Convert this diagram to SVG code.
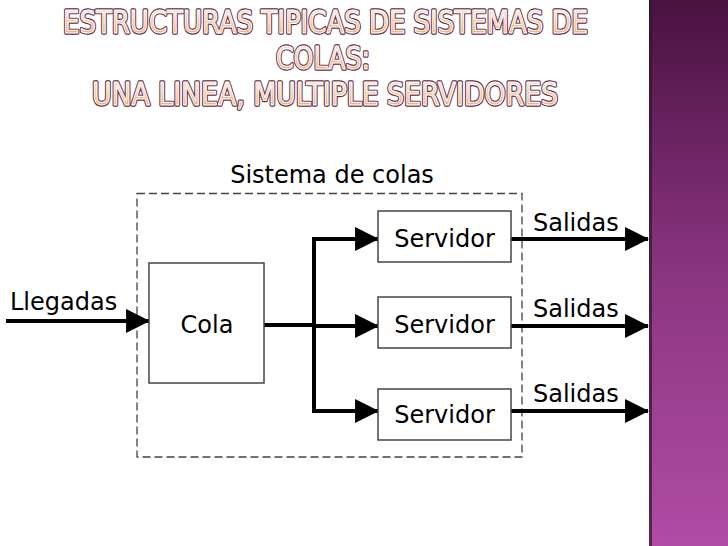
<svg xmlns="http://www.w3.org/2000/svg" width="728" height="546" viewBox="0 0 728 546">
<defs>
<linearGradient id="panel" x1="0" y1="0" x2="0" y2="1">
<stop offset="0" stop-color="#4a1240"/>
<stop offset="0.5" stop-color="#8a3580"/>
<stop offset="1" stop-color="#b24ba6"/>
</linearGradient>
<linearGradient id="titleFill" x1="0" y1="0" x2="0" y2="1">
<stop offset="0" stop-color="#fff4ea"/>
<stop offset="1" stop-color="#f09a55"/>
</linearGradient>
<marker id="arrow" markerUnits="userSpaceOnUse" markerWidth="24" markerHeight="24" viewBox="0 0 22 22" refX="21" refY="11" orient="auto">
<path d="M0,0 L22,11 L0,22 Z" fill="#000"/>
</marker>
</defs>
<style>
.lbl{font-family:"DejaVu Sans",Verdana,sans-serif;font-size:24px;fill:#000}
.box{fill:#fff;stroke:#444;stroke-width:1.5}
.wire{fill:none;stroke:#000;stroke-width:4}
.arr{fill:none;stroke:#000;stroke-width:4;marker-end:url(#arrow)}
.tOut{font-family:"DejaVu Sans Condensed","DejaVu Sans",sans-serif;font-size:25px;fill:none;stroke:#5e2c46;stroke-width:2.6;stroke-linejoin:round}
.tIn{font-family:"DejaVu Sans Condensed","DejaVu Sans",sans-serif;font-size:25px;fill:url(#titleFill);stroke:#fff;stroke-width:0.8;stroke-linejoin:round}
</style>
<rect width="728" height="546" fill="#fff"/>
<rect x="649" y="0" width="79" height="546" fill="url(#panel)"/>
<rect x="649" y="0" width="3" height="546" fill="#3a0e32" opacity="0.7"/>

<g id="title">
<g transform="translate(0,33) scale(1,1.3)">
<text class="tOut" x="325.5" y="0" text-anchor="middle" textLength="525" lengthAdjust="spacingAndGlyphs">ESTRUCTURAS TIPICAS DE SISTEMAS DE</text>
<text class="tIn" x="325.5" y="0" text-anchor="middle" textLength="525" lengthAdjust="spacingAndGlyphs">ESTRUCTURAS TIPICAS DE SISTEMAS DE</text>
</g>
<g transform="translate(0,69) scale(1,1.3)">
<text class="tOut" x="323" y="0" text-anchor="middle" textLength="94" lengthAdjust="spacingAndGlyphs">COLAS:</text>
<text class="tIn" x="323" y="0" text-anchor="middle" textLength="94" lengthAdjust="spacingAndGlyphs">COLAS:</text>
</g>
<g transform="translate(0,105) scale(1,1.3)">
<text class="tOut" x="325" y="0" text-anchor="middle" textLength="466" lengthAdjust="spacingAndGlyphs">UNA LINEA, MULTIPLE SERVIDORES</text>
<text class="tIn" x="325" y="0" text-anchor="middle" textLength="466" lengthAdjust="spacingAndGlyphs">UNA LINEA, MULTIPLE SERVIDORES</text>
</g>
</g>

<g id="sistema">
<rect x="137" y="193.5" width="385" height="263.5" fill="none" stroke="#444" stroke-width="1.3" stroke-dasharray="8,4"/>
<text class="lbl" x="332" y="183" text-anchor="middle">Sistema de colas</text>
</g>

<g id="connectors">
<line class="arr" x1="6" y1="321" x2="149" y2="321"/>
<line class="wire" x1="264" y1="325" x2="314" y2="325"/>
<polyline class="wire" points="378,239 314,239 314,411 378,411"/>
<line class="arr" x1="314" y1="239" x2="378" y2="239"/>
<line class="arr" x1="312" y1="326" x2="378" y2="326"/>
<line class="arr" x1="314" y1="411" x2="378" y2="411"/>
<line class="arr" x1="511" y1="239" x2="648" y2="239"/>
<line class="arr" x1="511" y1="326" x2="648" y2="326"/>
<line class="arr" x1="511" y1="411" x2="648" y2="411"/>
</g>

<g id="llegadas"><text class="lbl" x="10" y="310">Llegadas</text></g>

<g id="cola">
<rect class="box" x="149" y="263" width="115" height="120"/>
<text class="lbl" x="207" y="333" text-anchor="middle">Cola</text>
</g>

<g id="servidor1">
<rect class="box" x="378" y="211" width="133" height="51"/>
<text class="lbl" x="444.5" y="247" text-anchor="middle">Servidor</text>
</g>
<g id="servidor2">
<rect class="box" x="378" y="297" width="133" height="51"/>
<text class="lbl" x="444.5" y="333" text-anchor="middle">Servidor</text>
</g>
<g id="servidor3">
<rect class="box" x="378" y="389" width="133" height="51"/>
<text class="lbl" x="444.5" y="423" text-anchor="middle">Servidor</text>
</g>

<g id="salidas">
<text class="lbl" x="533" y="231">Salidas</text>
<text class="lbl" x="533" y="317">Salidas</text>
<text class="lbl" x="533" y="402">Salidas</text>
</g>
</svg>
